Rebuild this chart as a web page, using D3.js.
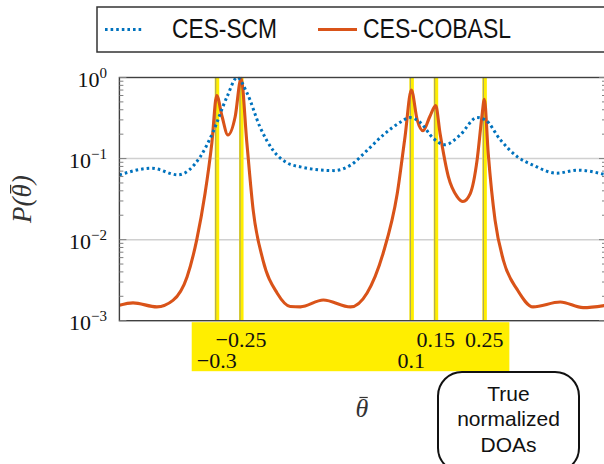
<!DOCTYPE html>
<html>
<head>
<meta charset="utf-8">
<script src="https://cdn.jsdelivr.net/npm/d3@7"></script>
<style>
  body { margin: 0; background: #fff; }
  svg { display: block; }
</style>
</head>
<body>
<svg id="chart"></svg>
<script>
// данные
const seriesNames = ["CES-SCM", "CES-COBASL"];
const scmTheta = [-0.5, -0.433, -0.38, -0.334, -0.308, -0.279, -0.258, -0.238, -0.211, -0.184, -0.156, -0.128,
    -0.06, -0.025, 0.009, 0.042, 0.077, 0.097, 0.118, 0.145, 0.169, 0.2, 0.235, 0.252, 0.283, 0.318,
    0.35, 0.399, 0.441, 0.5];
const scmP = [0.063, 0.076, 0.063, 0.105, 0.21, 0.575, 1.0, 0.65, 0.245, 0.126, 0.089, 0.079,
    0.071, 0.083, 0.126, 0.195, 0.28, 0.32, 0.28, 0.178, 0.148, 0.195, 0.32, 0.30, 0.17, 0.105,
    0.083, 0.066, 0.072, 0.063];
const cobaslTheta = [-0.5, -0.472, -0.423, -0.39, -0.361, -0.341, -0.324, -0.31, -0.3, -0.289, -0.277, -0.262,
    -0.25, -0.238, -0.225, -0.205, -0.176, -0.149, -0.128, -0.081, -0.025, 0.009, 0.042, 0.071,
    0.087, 0.1, 0.112, 0.124, 0.138, 0.15, 0.159, 0.176, 0.194, 0.206, 0.221, 0.235, 0.245, 0.25,
    0.258, 0.272, 0.289, 0.318, 0.35, 0.406, 0.453, 0.5];
const cobaslP = [0.00155, 0.00166, 0.00148, 0.00178, 0.00347, 0.01, 0.037, 0.155, 0.6, 0.33, 0.195, 0.33,
    0.98, 0.155, 0.023, 0.0056, 0.0022, 0.0015, 0.00148, 0.0018, 0.00148, 0.0022, 0.0068, 0.037,
    0.186, 0.7, 0.30, 0.22, 0.33, 0.45, 0.204, 0.06, 0.034, 0.0295, 0.037, 0.095, 0.33, 0.54,
    0.115, 0.0174, 0.0056, 0.0024, 0.00148, 0.0017, 0.00145, 0.00155];
const doaTicks = [-0.3, -0.25, 0.1, 0.15, 0.25];
const doaLabels = ["\u22120.3", "\u22120.25", "0.1", "0.15", "0.25"];
const yExps = [0, -1, -2, -3];

const width = 604;
const height = 464;
const plotLeft = 119.4, plotRight = 606, plotTop = 77.5, plotBottom = 320.7;
const mathFont = "'Liberation Serif', 'Times New Roman', serif";
const sansFont = "'Liberation Sans', Arial, sans-serif";

let svg = d3.select("#chart").attr("width", width).attr("height", height);

let scX = d3.scaleLinear().domain([-0.5, 0.5]).range([plotLeft, plotRight]);
let scY = d3.scaleLog().domain([1e-3, 1]).range([plotBottom, plotTop]);

// сетка
svg.append("g")
    .selectAll("line")
    .data([1e-1, 1e-2])
    .enter()
    .append("line")
    .attr("x1", plotLeft).attr("x2", plotRight)
    .attr("y1", d => scY(d)).attr("y2", d => scY(d))
    .style("stroke", "#d0d0d0")
    .style("stroke-width", 1.5);

// жёлтые полосы истинных DOA
svg.append("g")
    .selectAll("rect")
    .data(doaTicks)
    .enter()
    .append("rect")
    .attr("x", d => scX(d) - 2)
    .attr("y", plotTop)
    .attr("width", 4.5)
    .attr("height", plotBottom - plotTop)
    .style("fill", "#ffee00");

svg.append("g")
    .selectAll("line")
    .data(doaTicks)
    .enter()
    .append("line")
    .attr("x1", d => scX(d) - 1).attr("x2", d => scX(d) - 1)
    .attr("y1", plotTop).attr("y2", plotBottom)
    .style("stroke", "#888")
    .style("stroke-width", 0.8);

// кривые
svg.append("clipPath").attr("id", "clip")
    .append("rect")
    .attr("x", plotLeft).attr("y", plotTop - 3)
    .attr("width", plotRight - plotLeft).attr("height", plotBottom - plotTop + 3);

let line = d3.line()
    .x(d => scX(d[0]))
    .y(d => scY(d[1]))
    .curve(d3.curveMonotoneX);

svg.append("path")
    .attr("d", line(d3.zip(cobaslTheta, cobaslP)))
    .attr("clip-path", "url(#clip)")
    .style("fill", "none")
    .style("stroke", "#d95319")
    .style("stroke-width", 3.1);

svg.append("path")
    .attr("d", line(d3.zip(scmTheta, scmP)))
    .attr("clip-path", "url(#clip)")
    .style("fill", "none")
    .style("stroke", "#0072bd")
    .style("stroke-width", 3)
    .style("stroke-dasharray", "2.6,3");

// рамка и деления
svg.append("rect")
    .attr("x", plotLeft).attr("y", plotTop)
    .attr("width", plotRight - plotLeft).attr("height", plotBottom - plotTop)
    .style("fill", "none")
    .style("stroke", "#404040")
    .style("stroke-width", 1.4);

let minor = [];
for (let e = -3; e < 0; e++) {
    for (let m = 2; m <= 9; m++) minor.push(m * Math.pow(10, e));
}
let tickG = svg.append("g").style("stroke", "#808080").style("stroke-width", 1);
[plotLeft, plotRight].forEach(x0 => {
    let dir = x0 === plotLeft ? 1 : -1;
    tickG.selectAll(null)
        .data(minor)
        .enter()
        .append("line")
        .attr("x1", x0).attr("x2", x0 + dir * 4)
        .attr("y1", d => scY(d)).attr("y2", d => scY(d));
    tickG.selectAll(null)
        .data(yExps.map(e => Math.pow(10, e)))
        .enter()
        .append("line")
        .attr("x1", x0).attr("x2", x0 + dir * 7)
        .attr("y1", d => scY(d)).attr("y2", d => scY(d));
});

// подписи оси Y
let yLab = svg.append("g")
    .selectAll("text")
    .data(yExps)
    .enter()
    .append("text")
    .attr("x", 107)
    .attr("y", d => scY(Math.pow(10, d)) + 9.5)
    .attr("text-anchor", "end")
    .style("font-family", mathFont)
    .style("font-size", "22px")
    .style("fill", "#111");
yLab.append("tspan").text("10");
yLab.append("tspan")
    .attr("dy", -9)
    .style("font-size", "15px")
    .text(d => d === 0 ? "0" : "\u2212" + (-d));

// подписи истинных DOA
let rowOf = doaTicks.map((d, i) => (i < doaTicks.length - 1 && doaTicks[i + 1] - d < 0.06) ? 1 : 0);
svg.append("rect")
    .attr("x", scX(doaTicks[0]) - 25)
    .attr("y", plotBottom + 1.5)
    .attr("width", scX(doaTicks[doaTicks.length - 1]) + 25 - (scX(doaTicks[0]) - 25))
    .attr("height", 49)
    .style("fill", "#ffee00");

svg.append("g")
    .selectAll("text")
    .data(doaTicks)
    .enter()
    .append("text")
    .attr("x", d => scX(d))
    .attr("y", (d, i) => rowOf[i] ? 368 : 346.5)
    .attr("text-anchor", "middle")
    .style("font-family", mathFont)
    .style("font-size", "22px")
    .style("fill", "#111")
    .text((d, i) => doaLabels[i]);

// названия осей (черта над θ рисуется линией)
let addBar = (g, textEl, idx) => {
    let box = textEl.node().getExtentOfChar(idx);
    g.append("line")
        .attr("x1", box.x + box.width * 0.3).attr("x2", box.x + box.width * 0.95)
        .attr("y1", box.y + box.height * 0.12).attr("y2", box.y + box.height * 0.12)
        .style("stroke", "#333")
        .style("stroke-width", 1.2);
};

let xTitle = svg.append("g");
let xText = xTitle.append("text")
    .attr("x", 362).attr("y", 417)
    .attr("text-anchor", "middle")
    .style("font-family", mathFont)
    .style("font-style", "italic")
    .style("font-size", "26px")
    .style("fill", "#333")
    .text("\u03b8");
addBar(xTitle, xText, 0);

let yTitle = svg.append("g").attr("transform", "translate(31, 199) rotate(-90)");
let yText = yTitle.append("text")
    .attr("text-anchor", "middle")
    .style("font-family", mathFont)
    .style("font-style", "italic")
    .style("font-size", "27px")
    .style("fill", "#333")
    .text("P(\u03b8)");
addBar(yTitle, yText, 2);

// легенда
let legend = svg.append("g");
legend.append("rect")
    .attr("x", 97).attr("y", 7)
    .attr("width", 520).attr("height", 45)
    .style("fill", "#fff")
    .style("stroke", "#333")
    .style("stroke-width", 1.5);
legend.append("line")
    .attr("x1", 105).attr("x2", 144).attr("y1", 29.5).attr("y2", 29.5)
    .style("stroke", "#0072bd").style("stroke-width", 3)
    .style("stroke-dasharray", "2.6,3");
legend.append("line")
    .attr("x1", 318).attr("x2", 357).attr("y1", 29.5).attr("y2", 29.5)
    .style("stroke", "#d95319").style("stroke-width", 3.1);
[[172, 105], [363, 148]].forEach((p, i) => {
    legend.append("text")
        .attr("x", p[0]).attr("y", 38)
        .attr("textLength", p[1])
        .attr("lengthAdjust", "spacingAndGlyphs")
        .style("font-family", sansFont)
        .style("font-size", "27px")
        .style("fill", "#111")
        .text(seriesNames[i]);
});

// пояснение
let note = svg.append("g");
note.append("rect")
    .attr("x", 438).attr("y", 372)
    .attr("width", 141).attr("height", 100)
    .attr("rx", 24)
    .style("fill", "#fff")
    .style("stroke", "#111")
    .style("stroke-width", 2);
["True", "normalized", "DOAs"].forEach((t, i) => {
    note.append("text")
        .attr("x", 508.5).attr("y", 400.5 + i * 25.5)
        .attr("text-anchor", "middle")
        .style("font-family", sansFont)
        .style("font-size", "21px")
        .style("fill", "#111")
        .text(t);
});
</script>
</body>
</html>
